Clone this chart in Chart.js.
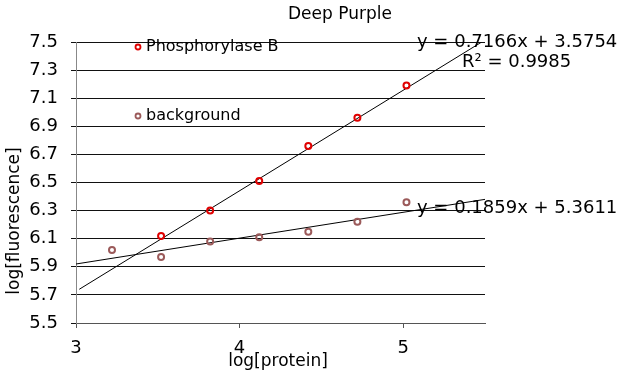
<!DOCTYPE html>
<html>
<head>
<meta charset="utf-8">
<script src="https://cdn.jsdelivr.net/npm/chart.js@4.4.1/dist/chart.umd.min.js"></script>
<style>
	body { margin: 0; background: #fff; }
	canvas { display: block; }
</style>
</head>
<body>
<canvas id="chart" width="623" height="376"></canvas>
<script>
// Deep Purple standard curve: log[fluorescence] vs log[protein]

const TITLE = "Deep Purple";
const X_TITLE = "log[protein]";
const Y_TITLE = "log[fluorescence]";
const SERIES_NAMES = ["Phosphorylase B", "background"];

const phosX = [3.52, 3.82, 4.12, 4.42, 4.72, 5.02];
const phosY = [6.12, 6.30, 6.51, 6.76, 6.96, 7.19];
const bgX = [3.22, 3.52, 3.82, 4.12, 4.42, 4.72, 5.02];
const bgY = [6.02, 5.97, 6.08, 6.11, 6.15, 6.22, 6.36];

// trendline end points
const phosTrendX = [3.02, 5.48];
const phosTrendY = [5.74, 7.5];
const bgTrendX = [3.0, 5.5];
const bgTrendY = [5.92, 6.38];

const EQUATIONS = ["y = 0.7166x + 3.5754", "R² = 0.9985", "y = 0.1859x + 5.3611"];

const xTicks = [3, 4, 5];
const FONT = "'DejaVu Sans', Verdana, sans-serif";

const toPoints = (xs, ys) => xs.map((x, i) => ({ x: x, y: ys[i] }));

const RED = "#e00000";
const BROWN = "#9b5a5a";

const textPlugin = {
	id: "texts",
	afterDraw(chart) {
		const ctx = chart.ctx;
		ctx.save();
		ctx.fillStyle = "#000";
		ctx.textBaseline = "middle";
		ctx.textAlign = "left";

		ctx.font = "17px " + FONT;
		ctx.fillText(TITLE, 288, 15);

		// legend inside plot
		const legendY = [47, 116];
		const legendColors = [RED, BROWN];
		ctx.font = "16px " + FONT;
		SERIES_NAMES.forEach((name, i) => {
			ctx.beginPath();
			ctx.arc(138, legendY[i], 2.5, 0, Math.PI * 2);
			ctx.lineWidth = 1.8;
			ctx.strokeStyle = legendColors[i];
			ctx.stroke();
			ctx.fillText(name, 146, legendY[i]);
		});

		// trendline equations
		ctx.font = "18px " + FONT;
		ctx.fillText(EQUATIONS[0], 417, 42);
		ctx.fillText(EQUATIONS[1], 462, 62);
		ctx.fillText(EQUATIONS[2], 417, 208);

		// axis titles
		ctx.font = "17px " + FONT;
		ctx.textAlign = "center";
		ctx.fillText(X_TITLE, 278, 362);
		ctx.translate(15, 221);
		ctx.rotate(-Math.PI / 2);
		ctx.fillText(Y_TITLE, 0, 0);
		ctx.restore();
	},
};

new Chart(document.getElementById("chart"), {
	type: "scatter",
	data: {
		datasets: [
			{
				label: SERIES_NAMES[0],
				data: toPoints(phosX, phosY),
				borderColor: RED,
				backgroundColor: "rgba(0,0,0,0)",
				pointRadius: 3,
				borderWidth: 2,
			},
			{
				label: SERIES_NAMES[1],
				data: toPoints(bgX, bgY),
				borderColor: BROWN,
				backgroundColor: "rgba(0,0,0,0)",
				pointRadius: 3,
				borderWidth: 2,
			},
			{
				label: "trend phos",
				data: toPoints(phosTrendX, phosTrendY),
				showLine: true,
				borderColor: "#000",
				borderWidth: 1,
				pointRadius: 0,
			},
			{
				label: "trend bg",
				data: toPoints(bgTrendX, bgTrendY),
				showLine: true,
				borderColor: "#000",
				borderWidth: 1,
				pointRadius: 0,
			},
		],
	},
	options: {
		responsive: false,
		animation: false,
		layout: { padding: { left: 0, top: 42, right: 138, bottom: 0 } },
		plugins: {
			legend: { display: false },
			title: { display: false },
			tooltip: { enabled: false },
		},
		scales: {
			x: {
				type: "linear",
				min: 3,
				max: 5.5,
				afterBuildTicks: (scale) => {
					scale.ticks = xTicks.map((v) => ({ value: v }));
				},
				afterFit: (scale) => {
					scale.height = 53;
				},
				grid: { drawOnChartArea: false, drawTicks: true, tickLength: 5, color: "#555" },
				border: { color: "#555" },
				ticks: {
					padding: 10,
					color: "#000",
					font: { family: FONT, size: 18 },
					maxRotation: 0,
				},
			},
			y: {
				min: 5.5,
				max: 7.5,
				afterFit: (scale) => {
					scale.width = 76;
				},
				grid: { color: "#111", tickLength: 5, drawTicks: true },
				border: { color: "#888" },
				ticks: {
					stepSize: 0.2,
					padding: 13,
					color: "#000",
					font: { family: FONT, size: 18 },
					callback: (v) => v.toFixed(1),
				},
			},
		},
	},
	plugins: [textPlugin],
});
</script>
</body>
</html>
